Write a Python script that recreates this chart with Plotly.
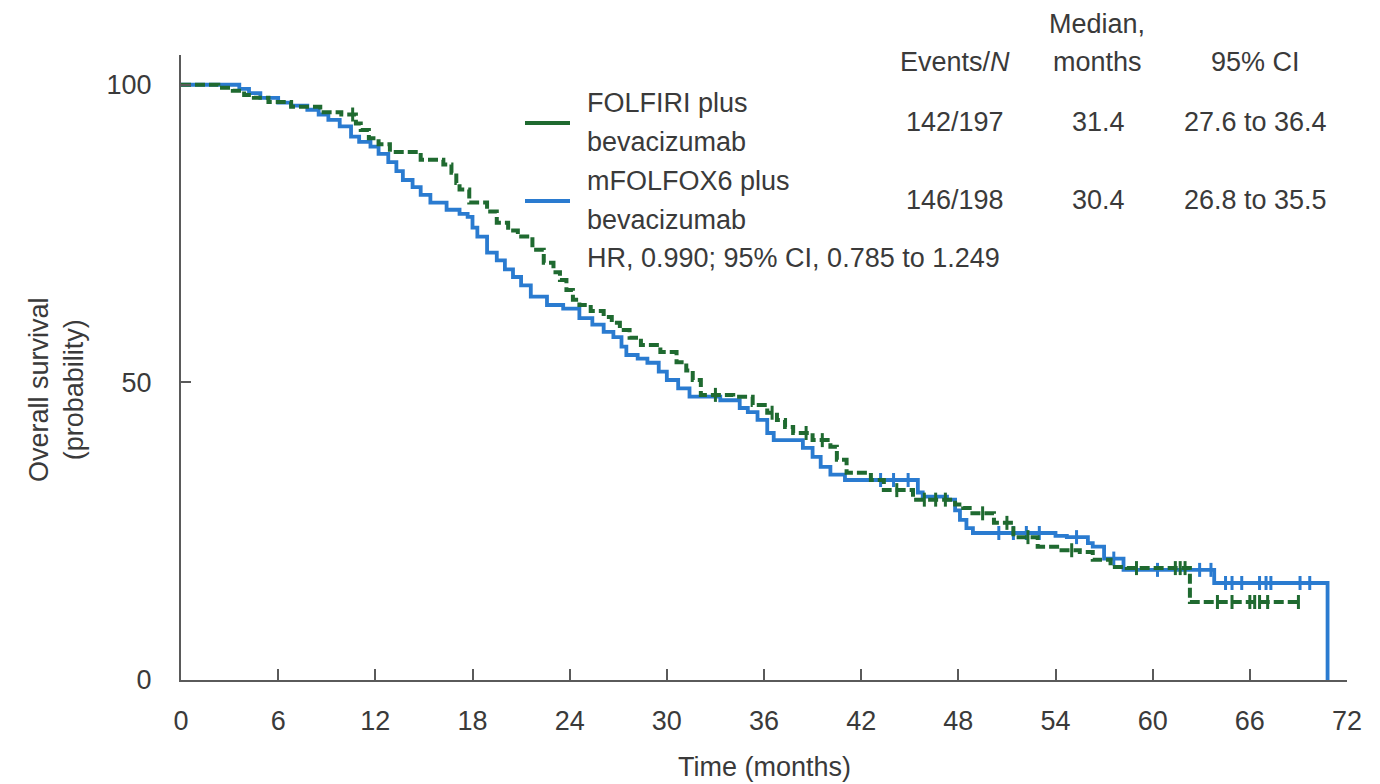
import numpy as np
import plotly.graph_objects as go

# ---- data ----
blue_t = [0, 3.4, 3.6, 4.2, 4.9, 6.0, 6.8, 7.8, 8.5, 9.1,
          9.8, 10.5, 11.0, 11.7, 12.2, 12.8, 13.3, 13.7, 14.3, 14.8,
          15.4, 16.4, 17.2, 17.7, 18.0, 18.3, 18.9, 19.5, 20.0, 20.5,
          21.0, 21.6, 22.6, 23.6, 24.6, 25.4, 26.1, 26.7, 27.2, 27.5,
          28.2, 28.8, 29.5, 30.0, 30.7, 31.4, 33.3, 34.5, 35.0, 35.6,
          36.2, 36.6, 38.4, 39.0, 39.5, 40.1, 41.0, 45.5, 45.8, 47.3,
          47.8, 48.1, 48.5, 48.9, 54.0, 54.7, 56.0, 56.3, 57.0, 58.2,
          63.8, 70.8]
blue_s = [100, 100, 99.3, 98.6, 97.8, 97.0, 96.5, 95.8, 95.0, 94.1,
          93.0, 91.3, 90.4, 89.6, 88.4, 87.0, 85.5, 84.0, 82.8, 81.5,
          80.2, 79.0, 78.3, 77.8, 76.0, 74.5, 71.8, 70.5, 69.0, 67.7,
          66.3, 64.4, 63.0, 62.4, 60.8, 59.7, 58.5, 57.6, 56.0, 54.6,
          54.0, 53.3, 51.8, 50.4, 49.0, 47.6, 47.0, 45.7, 45.0, 43.7,
          41.5, 40.3, 39.0, 37.5, 35.8, 34.5, 33.6, 31.5, 30.8, 30.3,
          28.5, 26.9, 25.5, 24.7, 24.2, 24.0, 23.0, 22.4, 20.4, 18.5,
          16.3, 0]
blue_cens = [43.2, 44.0, 44.9, 50.5, 51.4, 52.2, 53.0, 55.3, 57.6, 60.3,
             62.9, 63.6, 64.5, 64.9, 65.5, 66.6, 67.0, 67.3, 69.1, 69.7]

green_t = [0, 2.3, 3.2, 3.9, 4.5, 5.4, 6.8, 8.6, 9.9, 10.8,
           11.1, 11.6, 12.2, 12.9, 14.8, 16.2, 16.7, 17.0, 17.2, 17.8,
           18.9, 19.5, 20.2, 20.8, 21.7, 22.4, 23.0, 23.4, 23.8, 24.2,
           24.6, 25.3, 26.1, 26.6, 27.1, 27.7, 28.4, 29.6, 30.6, 31.2,
           31.6, 32.1, 34.1, 35.3, 36.2, 36.8, 37.3, 37.8, 39.0, 40.1,
           40.5, 41.1, 42.6, 43.4, 45.2, 47.8, 48.3, 48.7, 50.2, 51.4,
           52.9, 54.1, 55.5, 56.3, 57.4, 58.4, 62.3, 69.1]
green_s = [100, 99.5, 99.0, 98.3, 97.8, 97.1, 96.3, 95.4, 95.0, 93.5,
           92.4, 91.0, 90.0, 88.7, 87.4, 86.6, 85.2, 83.5, 82.4, 80.2,
           78.7, 76.8, 75.5, 74.5, 72.3, 70.1, 68.5, 67.2, 65.5, 63.9,
           63.0, 62.0, 61.0, 60.0, 58.8, 57.5, 56.3, 55.1, 53.4, 52.0,
           50.4, 47.9, 47.6, 46.2, 44.9, 43.7, 42.5, 41.5, 40.3, 39.2,
           37.0, 34.8, 33.6, 31.9, 30.3, 29.5, 28.9, 28.0, 26.4, 24.0,
           22.4, 21.8, 21.5, 20.2, 19.0, 18.8, 13.1, 13.1]
green_cens = [10.6, 33.0, 36.5, 38.6, 39.6, 44.2, 45.9, 46.6, 47.2, 49.5,
              51.0, 52.3, 55.0, 59.0, 61.4, 61.7, 62.0, 64.0, 64.9, 66.0,
              66.3, 66.6, 67.1, 69.0]

x_ticks = [0, 6, 12, 18, 24, 30, 36, 42, 48, 54, 60, 66, 72]
y_ticks = [0, 50, 100]

arm_names = ["FOLFIRI plus<br>bevacizumab", "mFOLFOX6 plus<br>bevacizumab"]
events_n = ["142/197", "146/198"]
medians = ["31.4", "30.4"]
cis = ["27.6 to 36.4", "26.8 to 35.5"]
hr_text = "HR, 0.990; 95% CI, 0.785 to 1.249"

GREEN = "#1f6a30"
BLUE = "#2a7bd0"
TXT = "#3a3a3a"
AX = "#5a5a5a"
FONT = "Liberation Sans, Arial, sans-serif"
FS = 27


def step_at(t, s, c):
    t = np.asarray(t)
    idx = np.searchsorted(t, c, side="right") - 1
    return [s[i] for i in idx]


fig = go.Figure()
fig.add_trace(go.Scatter(x=blue_t, y=blue_s, mode="lines", line_shape="hv",
                         line=dict(color=BLUE, width=3.8), showlegend=False))
fig.add_trace(go.Scatter(x=blue_cens, y=step_at(blue_t, blue_s, blue_cens), mode="markers",
                         marker=dict(symbol="line-ns", size=10, line=dict(color=BLUE, width=3)),
                         showlegend=False))
fig.add_trace(go.Scatter(x=green_t, y=green_s, mode="lines", line_shape="hv",
                         line=dict(color=GREEN, width=4, dash="10px,4px"), showlegend=False))
fig.add_trace(go.Scatter(x=green_cens, y=step_at(green_t, green_s, green_cens), mode="markers",
                         marker=dict(symbol="line-ns", size=10, line=dict(color=GREEN, width=3)),
                         showlegend=False))

# plot area in pixels: x 181..1347, y 55..680
L, R, T, B = 181, 1347, 55, 680
W, H = R - L, B - T


def px(xp):
    return (xp - L) / W


def py(yp):
    return (B - yp) / H


ann = []
def add_text(text, x, y, xanchor="center"):
    ann.append(dict(text=text, x=px(x), y=py(y), xref="paper", yref="paper",
                    xanchor=xanchor, yanchor="middle", showarrow=False,
                    font=dict(family=FONT, size=FS, color=TXT)))

add_text("Median,", 1097, 24)
add_text("months", 1097, 62)
add_text("Events/<i>N</i>", 955, 62)
add_text("95% CI", 1255, 62)
row_y = [122, 200]
for i in range(2):
    add_text(events_n[i], 955, row_y[i])
    add_text(medians[i], 1098, row_y[i])
    add_text(cis[i], 1255, row_y[i])
    l1, l2 = arm_names[i].split("<br>")
    add_text(l1, 585, row_y[i] - 19, "left")
    add_text(l2, 585, row_y[i] + 20, "left")
add_text(hr_text, 585, 258, "left")

# axis titles
ann.append(dict(text="Overall survival<br>(probability)", x=px(56), y=py(390),
                xref="paper", yref="paper", textangle=-90, showarrow=False,
                xanchor="center", yanchor="middle",
                font=dict(family=FONT, size=FS, color=TXT)))
ann.append(dict(text="Time (months)", x=px(764), y=py(767),
                xref="paper", yref="paper", showarrow=False,
                xanchor="center", yanchor="middle",
                font=dict(family=FONT, size=FS, color=TXT)))

shapes = []
for i, col in enumerate([GREEN, BLUE]):
    shapes.append(dict(type="line", xref="paper", yref="paper",
                       x0=px(525), x1=px(570), y0=py(row_y[i] + 1), y1=py(row_y[i] + 1),
                       line=dict(color=col, width=4)))

fig.update_layout(
    width=1380, height=784,
    margin=dict(l=L, r=1380 - R, t=T, b=784 - B, autoexpand=False),
    paper_bgcolor="white", plot_bgcolor="white",
    font=dict(family=FONT, size=FS, color=TXT),
    annotations=ann, shapes=shapes,
    xaxis=dict(range=[0, 72], tickvals=x_ticks, ticktext=[str(v) for v in x_ticks],
               showgrid=False, zeroline=False, showline=True, linecolor=AX, linewidth=2,
               ticks="inside", ticklen=11, tickwidth=2, tickcolor=AX,
               ticklabelstandoff=16, automargin=False),
    yaxis=dict(range=[0, 105], tickvals=y_ticks, showgrid=False, zeroline=False,
               showline=True, linecolor=AX, linewidth=2,
               ticks="inside", ticklen=10, tickwidth=2, tickcolor=AX,
               ticklabelstandoff=22, automargin=False),
)

fig.write_html("out.html")
